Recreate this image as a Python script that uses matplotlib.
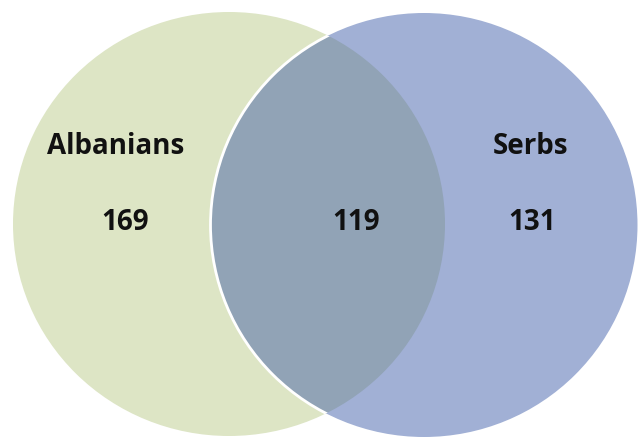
import matplotlib.pyplot as plt
from matplotlib.patches import Ellipse

# set sizes
labels = ["Albanians", "Serbs"]
only_counts = [169, 131]
both_count = 119

green = "#dde5c5"
blue = "#a1b0d5"
overlap = "#91a3b6"

fig = plt.figure(figsize=(6.4, 4.37), dpi=100)
ax = fig.add_axes([0, 0, 1, 1])
ax.set_xlim(0, 640)
ax.set_ylim(437, 0)
ax.axis("off")

left = Ellipse((229, 224), 432, 424, facecolor=green, edgecolor="none")
right = Ellipse((424, 225), 427, 424, facecolor=blue, edgecolor="none")
ax.add_patch(left)
ax.add_patch(right)

# intersection: left shape clipped to the right one
inter = Ellipse((229, 224), 432, 424, facecolor=overlap, edgecolor="none")
ax.add_patch(inter)
inter.set_clip_path(right)

# white rim of the right circle, only where it crosses the left one
rim = Ellipse((424, 225), 427, 424, facecolor="none", edgecolor="white", linewidth=2)
ax.add_patch(rim)
rim.set_clip_path(left)

font = dict(family="Open Sans", fontweight="bold", fontsize=20, color="#111111",
            ha="center", va="center")
ax.text(116, 147, labels[0], **font)
ax.text(531, 147, labels[1], **font)
ax.text(125, 222, str(only_counts[0]), **font)
ax.text(532, 222, str(only_counts[1]), **font)
ax.text(356, 222, str(both_count), **font)

fig.savefig("out.png", dpi=100)
